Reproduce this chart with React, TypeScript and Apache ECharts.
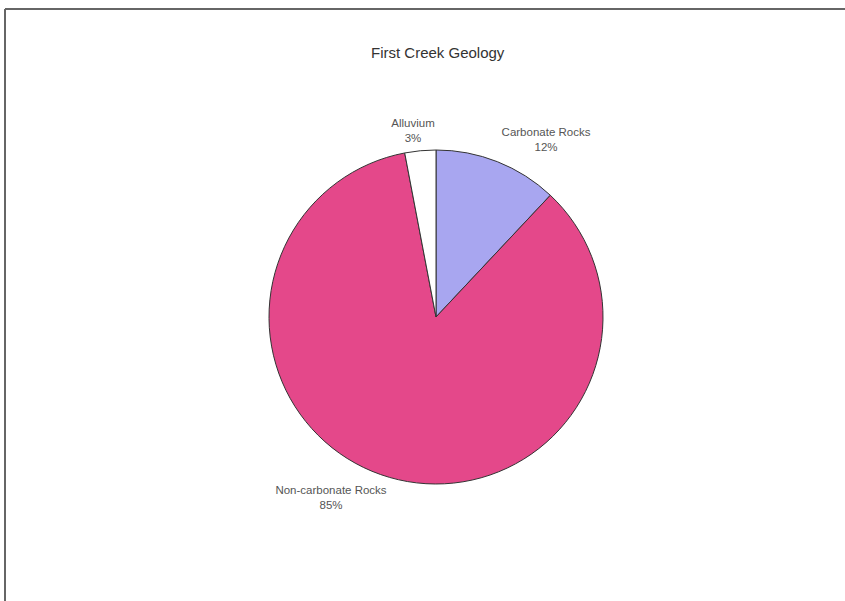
import React, { useEffect, useRef } from "react";
import * as echarts from "echarts";

const titleText = "First Creek Geology";
const categories = ["Carbonate Rocks", "Non-carbonate Rocks", "Alluvium"];
const values = [12, 85, 3];
const colors = ["#a8a6f0", "#e4488a", "#ffffff"];
const labelPos = [
  [546, 139],
  [331, 497],
  [413, 130],
];

export default function App() {
  const ref = useRef<HTMLDivElement>(null);
  useEffect(() => {
    const chart = echarts.init(ref.current!, null, { renderer: "svg" });
    chart.setOption({
      animation: false,
      backgroundColor: "#ffffff",
      title: {
        text: titleText,
        left: 366,
        top: 40,
        textStyle: {
          fontFamily: "Liberation Sans",
          fontSize: 15,
          fontWeight: "normal",
          color: "#333",
        },
      },
      graphic: [
        { type: "line", shape: { x1: 5, y1: 9, x2: 845, y2: 9 }, style: { stroke: "#666", lineWidth: 2 } },
        { type: "line", shape: { x1: 5, y1: 9, x2: 5, y2: 601 }, style: { stroke: "#666", lineWidth: 2 } },
      ],
      series: [
        {
          type: "pie",
          center: [436, 317],
          radius: 167,
          startAngle: 90,
          clockwise: true,
          data: categories.map((c, i) => ({
            name: c,
            value: values[i],
            itemStyle: { color: colors[i] },
          })),
          itemStyle: { borderColor: "#333", borderWidth: 1 },
          label: {
            show: true,
            position: "outside",
            formatter: (p: any) => `${p.name}\n${p.value}%`,
            fontFamily: "Liberation Sans",
            fontSize: 11.5,
            lineHeight: 15,
            color: "#555",
            align: "center",
          },
          labelLine: { show: false },
          labelLayout: (p: any) => ({
            x: labelPos[p.dataIndex][0],
            y: labelPos[p.dataIndex][1],
            align: "center",
            verticalAlign: "middle",
          }),
          emphasis: { disabled: true },
        },
      ],
    });
    return () => chart.dispose();
  }, []);
  return (
    <div
      ref={ref}
      style={{ position: "fixed", left: 0, top: 0, width: 845, height: 601 }}
    />
  );
}
